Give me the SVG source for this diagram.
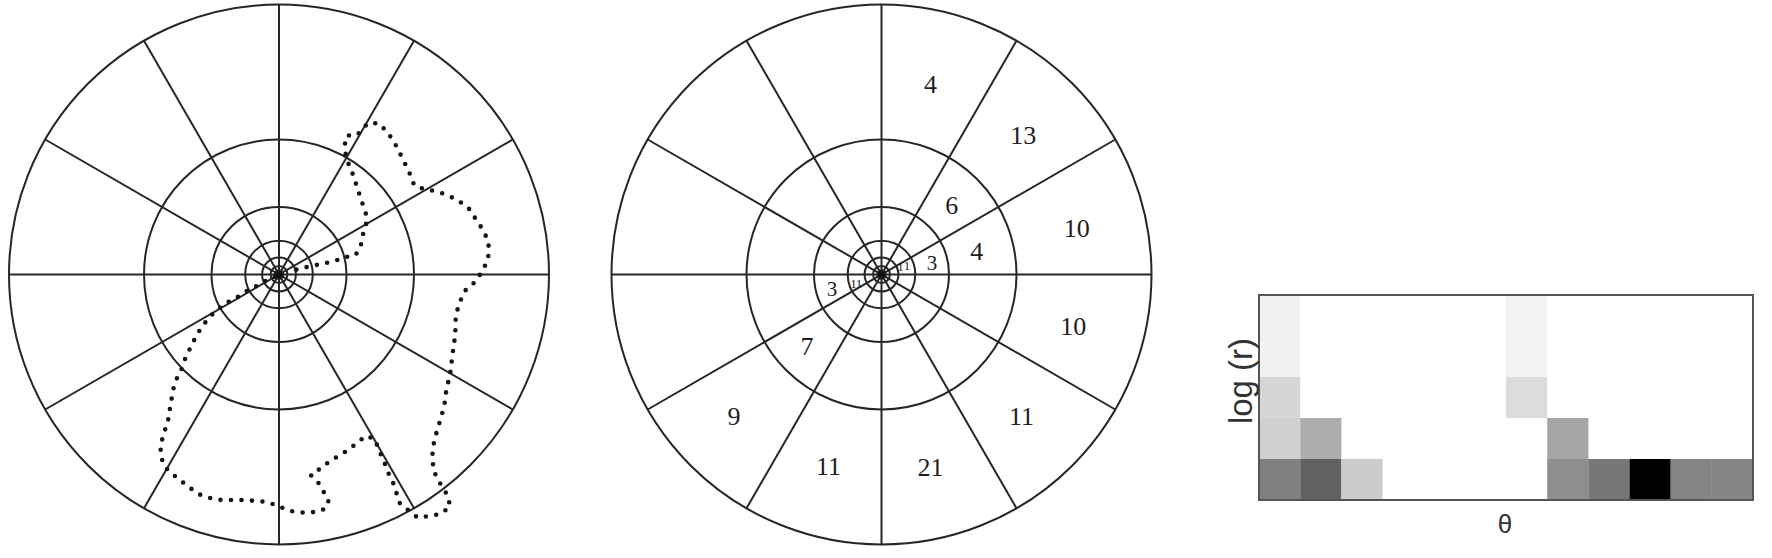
<svg xmlns="http://www.w3.org/2000/svg" width="1772" height="558" viewBox="0 0 1772 558">
<style>
.ring{fill:none;stroke:#262626;stroke-width:2}
.spoke{stroke:#262626;stroke-width:2}
.num{font-family:"Liberation Serif",serif;font-size:26px;fill:#1e1e1e;text-anchor:middle;dominant-baseline:central}
.sm{font-size:21px}
.tiny{font-size:13px}
.lbl{font-family:"Liberation Sans",sans-serif;fill:#333;text-anchor:middle;dominant-baseline:central}
.dots{fill:none;stroke:#151515;stroke-width:4.6;stroke-linecap:round;stroke-dasharray:0 10.5}
</style>
<defs>
<g id="logpolar">
<circle class="ring" r="270"/>
<circle class="ring" r="135"/>
<circle class="ring" r="67.5"/>
<circle class="ring" r="33.8"/>
<circle class="ring" r="16.9"/>
<circle class="ring" r="8.4"/>
<circle class="ring" r="4.2"/>
<line class="spoke" x1="-270" y1="0" x2="270" y2="0"/>
<line class="spoke" x1="0" y1="-270" x2="0" y2="270"/>
<line class="spoke" x1="-233.8" y1="-135" x2="233.8" y2="135"/>
<line class="spoke" x1="-233.8" y1="135" x2="233.8" y2="-135"/>
<line class="spoke" x1="-135" y1="-233.8" x2="135" y2="233.8"/>
<line class="spoke" x1="-135" y1="233.8" x2="135" y2="-233.8"/>
<circle r="3.5" fill="#111"/>
</g>
</defs>
<g id="polar-left">
<use href="#logpolar" x="279" y="274.5"/>
<path class="dots" d="M296.4,269.6 L310.7,266.1 L323.2,263.6 L335.7,260.7 L344.6,257.1 L355.4,255.4 L360.7,246.4 L362.5,235.7 L366.1,225 L366.1,214.3 L362.5,203.6 L358.9,192.9 L355.4,182.1 L351.8,171.4 L346.4,158.9 L344.6,146.4 L346.4,135.7 L357.1,135 L367.9,123.2 L378.6,123.2 L387.5,132.1 L394.6,142.9 L401.8,157.1 L408.9,171.4 L414.3,185.7 L425,189.3 L435.7,191.1 L446.4,194.6 L457.1,200 L467.9,207.1 L475,217.9 L482.1,228.6 L487.5,239.3 L489.3,250 L487.5,260.7 L482.1,271.4 L475,282.1 L466.1,289.3 L460.7,300 L457.1,310.7 L455.4,321.4 L455.4,333.9 L453.6,346.4 L451.8,360.7 L450,375 L446.4,389.3 L444.6,403.6 L441.1,417.9 L437.5,428.6 L433.9,442.9 L432.1,457.1 L433.9,471.4 L439.3,482.1 L448.2,496.4 L450,507.1 L439.3,514.3 L428.6,516.1 L417.9,517.9 L408.9,510.7 L400,503.6 L396.4,492.9 L392.9,482.1 L387.5,471.4 L383.9,460.7 L378.6,450 L375,439.3 L366.1,435.7 L357.1,442.9 L348.2,450 L339.3,455.4 L330.4,460.7 L321.4,467.9 L310.7,475 L317.9,482.1 L323.2,491.1 L328.6,500 L326.8,507.1 L321.4,510.7 L310.7,512.5 L300,512.5 L289.3,510.7 L276.8,505.4 L266.1,501.8 L253.6,500.7 L242.9,500 L232.1,500 L221.4,500 L210.7,498.2 L200,494.6 L189.3,487.5 L180.4,480.4 L171.4,473.2 L164.3,466.1 L160.7,455.4 L160.7,444.6 L164.3,432.1 L167.9,421.4 L169.6,410.7 L171.4,400 L173.2,389.3 L176.8,378.6 L182.1,367.9 L185.7,357.1 L191.1,346.4 L196.4,335.7 L201.8,326.8 L208.9,317.9 L216.1,310.7 L225,303.6 L235.7,298.2 L246.4,291.1 L257.1,285.7 L266.1,280.4 L275,276.8"/>
</g>
<g id="polar-right">
<use href="#logpolar" x="881.5" y="274.5"/>
<text class="num" x="930.4" y="84">4</text>
<text class="num" x="1023.2" y="135.7">13</text>
<text class="num" x="951.8" y="205.4">6</text>
<text class="num" x="1076.8" y="228.6">10</text>
<text class="num" x="976.8" y="251.8">4</text>
<text class="num sm" x="932.1" y="262.5">3</text>
<text class="num tiny" x="900.5" y="266">1</text>
<text class="num tiny" x="907" y="265">1</text>
<text class="num tiny" x="853.5" y="283">1</text>
<text class="num tiny" x="859" y="283">1</text>
<text class="num sm" x="832.1" y="289.3">3</text>
<text class="num" x="1073.2" y="326.8">10</text>
<text class="num" x="807.1" y="346.4">7</text>
<text class="num" x="733.9" y="416.1">9</text>
<text class="num" x="1021.4" y="416.1">11</text>
<text class="num" x="828.6" y="466.1">11</text>
<text class="num" x="930.4" y="467.9">21</text>
</g>
<g id="histogram">
<rect x="1259" y="295" width="41.2" height="82" fill="#f0f0f0"/>
<rect x="1259" y="377" width="41.2" height="41" fill="#d6d6d6"/>
<rect x="1259" y="418" width="41.2" height="41" fill="#d0d0d0"/>
<rect x="1259" y="459" width="41.2" height="41" fill="#808080"/>
<rect x="1300.2" y="418" width="41.2" height="41" fill="#adadad"/>
<rect x="1300.2" y="459" width="41.2" height="41" fill="#616161"/>
<rect x="1341.3" y="459" width="41.2" height="41" fill="#cccccc"/>
<rect x="1506" y="295" width="41.2" height="82" fill="#f2f2f2"/>
<rect x="1506" y="377" width="41.2" height="41" fill="#dcdcdc"/>
<rect x="1547.2" y="418" width="41.2" height="41" fill="#a6a6a6"/>
<rect x="1547.2" y="459" width="41.2" height="41" fill="#8e8e8e"/>
<rect x="1588.3" y="459" width="41.2" height="41" fill="#777777"/>
<rect x="1629.5" y="459" width="41.2" height="41" fill="#000000"/>
<rect x="1670.7" y="459" width="41.2" height="41" fill="#848484"/>
<rect x="1711.8" y="459" width="41.2" height="41" fill="#858585"/>
<rect x="1259" y="295" width="494" height="205" fill="none" stroke="#555" stroke-width="2"/>
<text class="lbl" x="1505" y="524" font-size="26">θ</text>
<text class="lbl" font-size="33" transform="translate(1240,381) rotate(-90)">log (r)</text>
</g>
</svg>
